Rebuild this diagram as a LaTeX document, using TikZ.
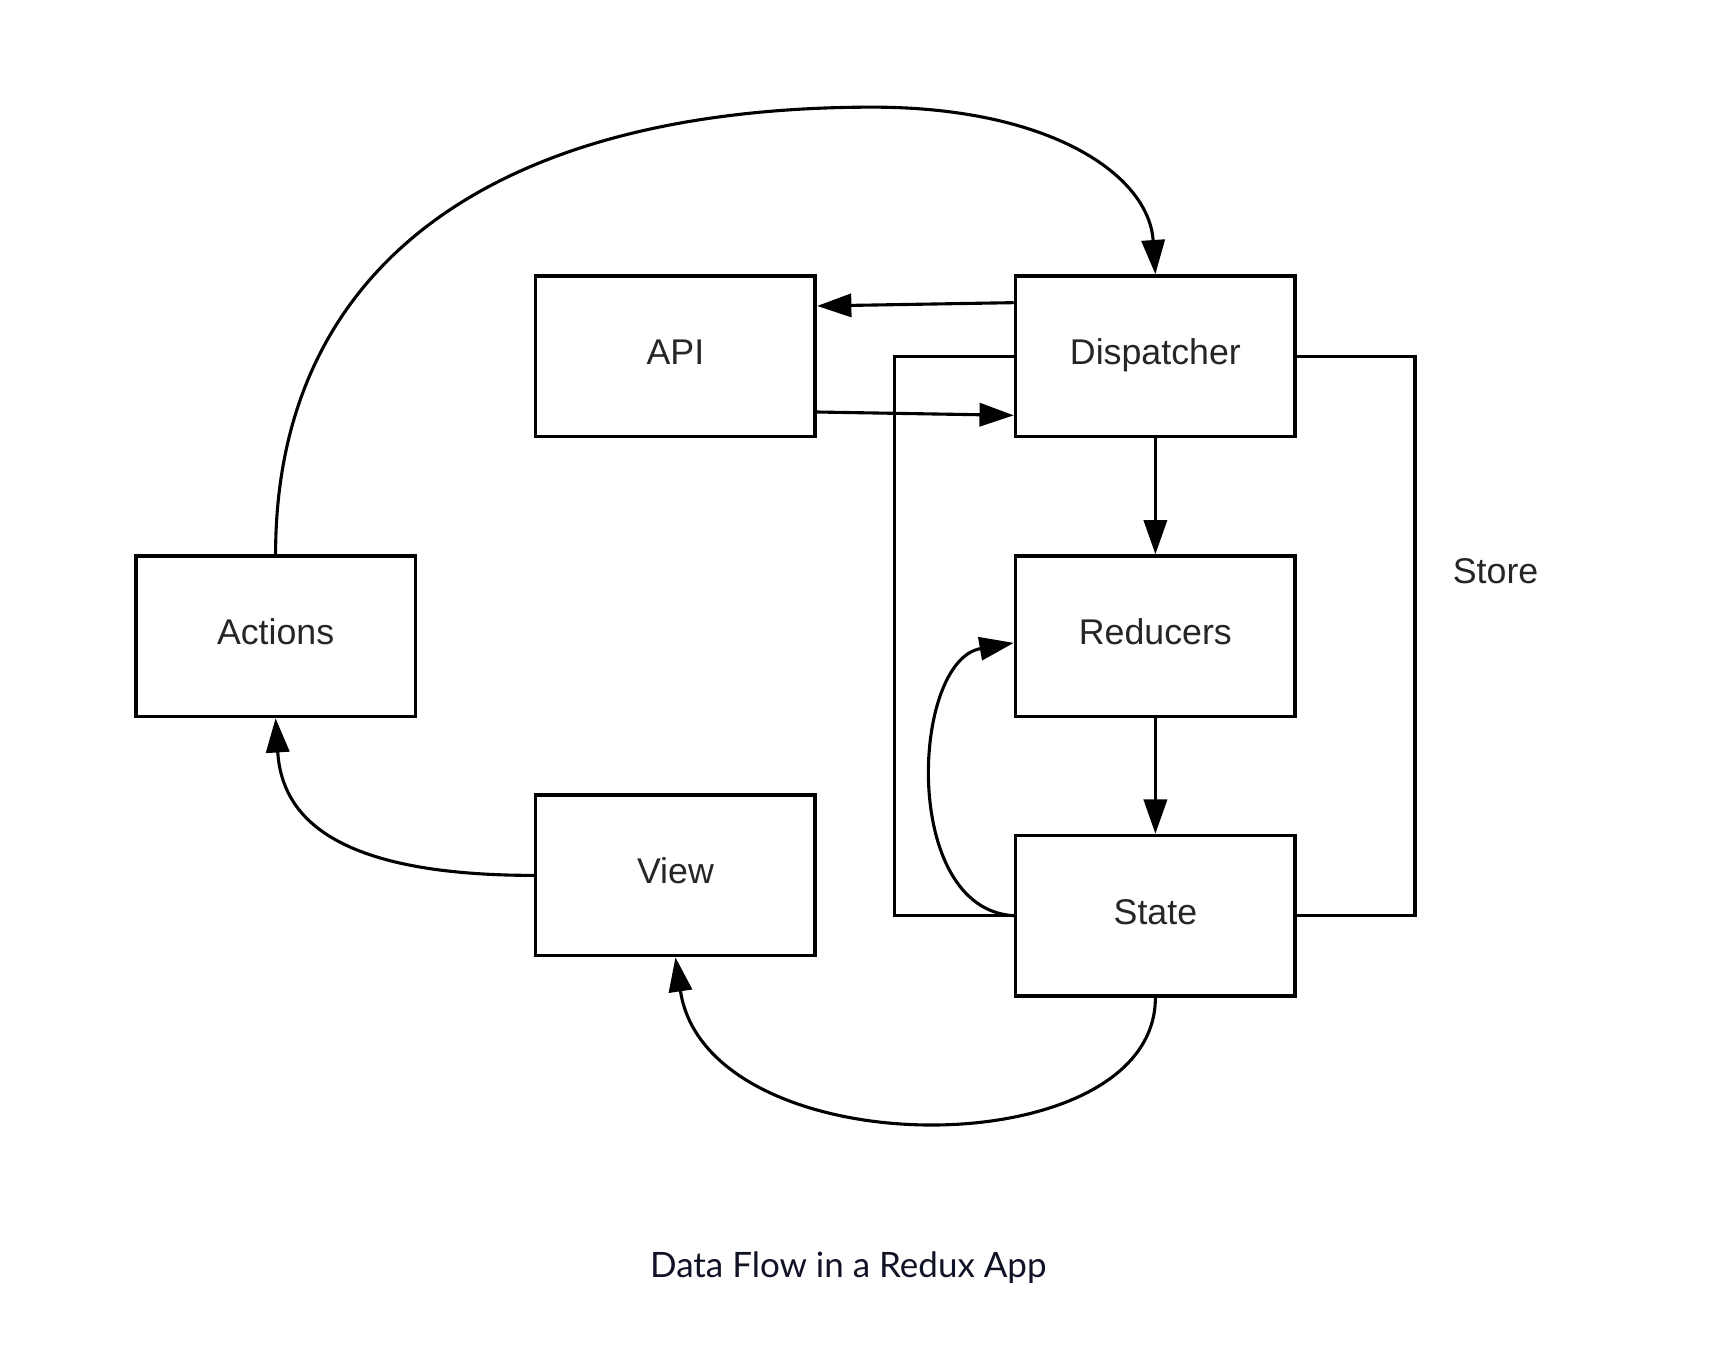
\documentclass[tikz,border=0pt]{standalone}
\usepackage{fontspec}
\setmainfont{Liberation Sans}
\newfontfamily\captionfont{Lato}
\usetikzlibrary{positioning}
\usetikzlibrary{arrows.meta}
\usetikzlibrary{calc}
\definecolor{captionblue}{RGB}{16,18,38}
\tikzstyle{block}=[rectangle,draw=black,fill=white,line width=0.95pt,minimum width=2.53cm,minimum height=1.45cm,inner sep=0pt,text height=6.4pt,text depth=2pt,font=\fontsize{9.2}{11}\selectfont,text=black!85]
\tikzstyle{edge} = [draw,line width=0.8pt,-{Triangle[length=3.1mm,width=2.1mm]}]
\tikzstyle{storeline} = [draw,line width=0.8pt]
\tikzstyle{label} = [font=\fontsize{9.2}{11}\selectfont,text=black!85]

\begin{document}
\begin{tikzpicture}[x=0.01cm,y=0.01cm]
\useasboundingbox (0,0) rectangle (1568,1238);

%Store outline, under the boxes
    \coordinate (storeTL) at (810,915.5);
    \coordinate (storeBR) at (1281,409);
    \path[storeline] (storeTL) rectangle (storeBR);
    \node[label] (store) at (1354,721) {Store};

  \foreach \pos/\name/\label in {{(611.5,915.5)/api/API}, {(1046,915.5)/disp/Dispatcher}, {(1046,662)/reduc/Reducers}, {(1046,409)/state/State}, {(249.5,662)/act/Actions}, {(611.5,445.5)/view/View}}
        \node[block] (\name) at \pos {\label};

    % straight connectors
   \foreach \source/ \dest in {disp/reduc, reduc/state}
          \path[edge] (\source) -- (\dest);

    \path[edge] ($(disp.west)+(0,48.5)$) -- ($(api.east)+(0,45.5)$);
    \path[edge] ($(api.east)+(0,-50.5)$) -- ($(disp.west)+(0,-53.5)$);

    % curved connectors
    \coordinate (topbend) at (790,1141);
    \path[edge] (act.north) .. controls (249.5,1000) and (450,1141) .. (topbend)
                .. controls (950,1141) and (1040,1080) .. (disp.north);
    \path[edge] (view.west) .. controls (300,445.5) and (255,500) .. (act.south);
    \path[edge] (state.south) .. controls (1046,180) and (640,180) .. (view.south);
    \path[edge] (state.west) .. controls (815,415) and (825,640) .. ($(reduc.west)+(0,-6)$);

%\node at (768,93) {};
    \node[font=\captionfont\fontsize{9}{11}\selectfont, text=captionblue] (caption) at (768,90) {Data Flow in a Redux App};

   \end{tikzpicture}
\end{document}
